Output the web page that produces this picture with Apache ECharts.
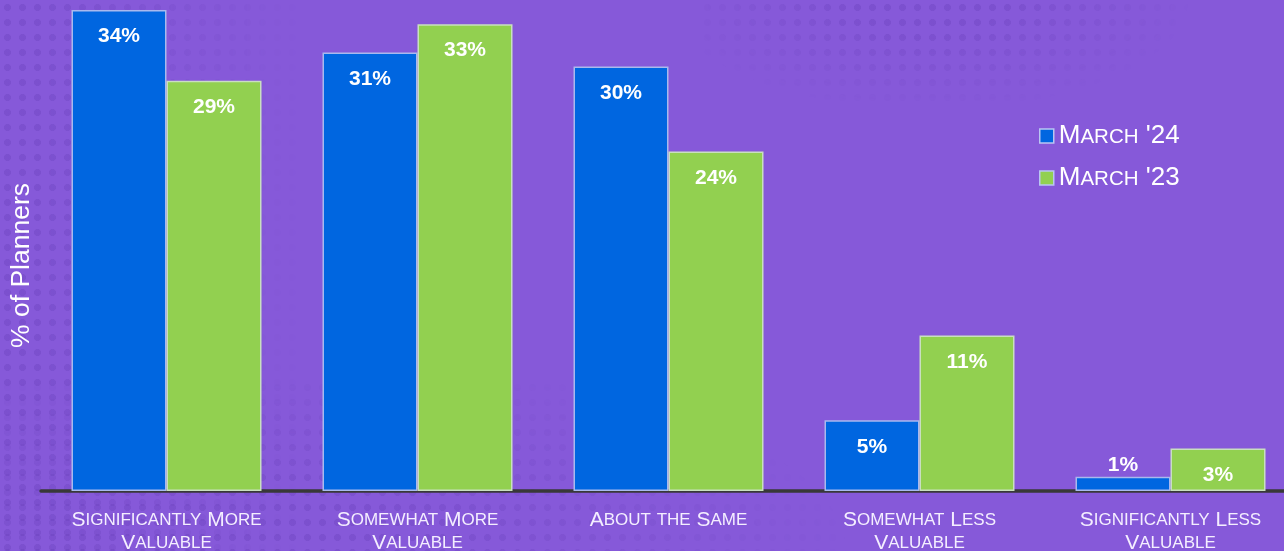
<!DOCTYPE html>
<html>
<head>
<meta charset="utf-8">
<script src="https://cdn.jsdelivr.net/npm/echarts@6/dist/echarts.min.js"></script>
<style>
  html, body { margin: 0; padding: 0; background: #8659d9; }
  #wrap { position: relative; width: 1284px; height: 551px; overflow: hidden; background: #8659d9; }
  .dots {
    position: absolute;
    background-image: radial-gradient(circle, rgba(90, 50, 170, 0.22) 3.2px, transparent 3.8px);
    background-size: 15px 15px;
  }
  #chart { position: absolute; left: 0; top: 0; width: 1284px; height: 551px; }
</style>
</head>
<body>
<div id="wrap">
  <div class="dots" style="left:0;top:0;width:300px;height:551px;-webkit-mask-image:linear-gradient(to right, #000 15%, transparent 100%);mask-image:linear-gradient(to right, #000 15%, transparent 100%);"></div>
  <div class="dots" style="left:0;top:380px;width:1284px;height:171px;-webkit-mask-image:radial-gradient(ellipse 600px 200px at 250px 171px, #000 30%, transparent 100%);mask-image:radial-gradient(ellipse 600px 200px at 250px 171px, #000 30%, transparent 100%);"></div>
  <div class="dots" style="left:700px;top:0;width:500px;height:120px;-webkit-mask-image:radial-gradient(ellipse 260px 110px at 230px 0px, #000 30%, transparent 100%);mask-image:radial-gradient(ellipse 260px 110px at 230px 0px, #000 30%, transparent 100%);"></div>
  <div id="chart"></div>
</div>
<script>
// Survey response categories and shares (%) for the two survey waves
const categories = [
  'Significantly More\nValuable',
  'Somewhat More\nValuable',
  'About the Same',
  'Somewhat Less\nValuable',
  'Significantly Less\nValuable'
];
const seriesNames = ["March '24", "March '23"];
const march24 = [34, 31, 30, 5, 1];
const march23 = [29, 33, 24, 11, 3];
const yAxisTitle = '% of Planners';

const FONT = '"Liberation Sans", Arial, sans-serif';

// Render text in small caps: capitals large, lowercase letters as smaller capitals
function smallCaps(text) {
  return text.split('\n').map(function (line) {
    let out = '';
    let run = '';
    let runType = null;
    const flush = function () {
      if (run) out += '{' + runType + '|' + run + '}';
      run = '';
    };
    for (const ch of line) {
      const isLower = ch !== ch.toUpperCase();
      const t = isLower ? 's' : 'b';
      if (t !== runType) { flush(); runType = t; }
      run += isLower ? ch.toUpperCase() : ch;
    }
    flush();
    return out;
  }).join('\n');
}

function barData(values) {
  return values.map(function (v) {
    const item = { value: v };
    if (v < 3) {
      item.label = { position: 'top', distance: 1 };
    }
    return item;
  });
}

const chart = echarts.init(document.getElementById('chart'), null, { renderer: 'canvas' });

const valueLabel = {
  show: true,
  position: 'insideTop',
  distance: 16,
  color: '#ffffff',
  fontFamily: FONT,
  fontWeight: 'bold',
  fontSize: 21,
  formatter: '{c}%'
};

chart.setOption({
  backgroundColor: 'transparent',
  animation: false,
  grid: { left: 41, right: -12, top: 10, bottom: 60, containLabel: false, outerBoundsMode: 'none' },
  legend: {
    orient: 'vertical',
    left: 1034,
    top: 118,
    itemWidth: 14,
    itemHeight: 14,
    itemGap: 16,
    icon: 'rect',
    itemStyle: { borderColor: '#b9c6f2', borderWidth: 1.5 },
    formatter: function (name) { return smallCaps(name); },
    textStyle: {
      color: '#ffffff',
      fontFamily: FONT,
      rich: {
        b: { fontSize: 26, fontFamily: FONT, color: '#ffffff', lineHeight: 28 },
        s: { fontSize: 20.5, fontFamily: FONT, color: '#ffffff', lineHeight: 28, padding: [3, 0, 0, 0] }
      }
    },
    data: seriesNames
  },
  xAxis: {
    type: 'category',
    data: categories,
    axisLine: { show: true, lineStyle: { color: '#383838', width: 3.5 } },
    axisTick: { show: false },
    axisLabel: {
      margin: 18,
      interval: 0,
      color: '#f4eeff',
      fontFamily: FONT,
      formatter: function (v) { return smallCaps(v); },
      rich: {
        b: { fontSize: 21, fontFamily: FONT, color: '#f4eeff', lineHeight: 23 },
        s: { fontSize: 17, fontFamily: FONT, color: '#f4eeff', lineHeight: 23 }
      }
    }
  },
  yAxis: {
    type: 'value',
    min: 0,
    max: 34,
    name: yAxisTitle,
    nameLocation: 'middle',
    nameGap: 6,
    nameTextStyle: { color: '#ffffff', fontFamily: FONT, fontSize: 26.5, padding: [0, 30, 0, 0] },
    axisLine: { show: false },
    axisTick: { show: false },
    axisLabel: { show: false },
    splitLine: { show: false }
  },
  series: [
    {
      name: seriesNames[0],
      type: 'bar',
      data: barData(march24),
      barWidth: 95,
      barGap: '0%',
      itemStyle: { color: '#0066e0', borderColor: '#a9b9ee', borderWidth: 1.5 },
      label: valueLabel
    },
    {
      name: seriesNames[1],
      type: 'bar',
      data: barData(march23),
      barWidth: 95,
      barGap: '0%',
      itemStyle: { color: '#92d050', borderColor: '#c9dfc0', borderWidth: 1.5 },
      label: valueLabel
    }
  ]
});
</script>
</body>
</html>
